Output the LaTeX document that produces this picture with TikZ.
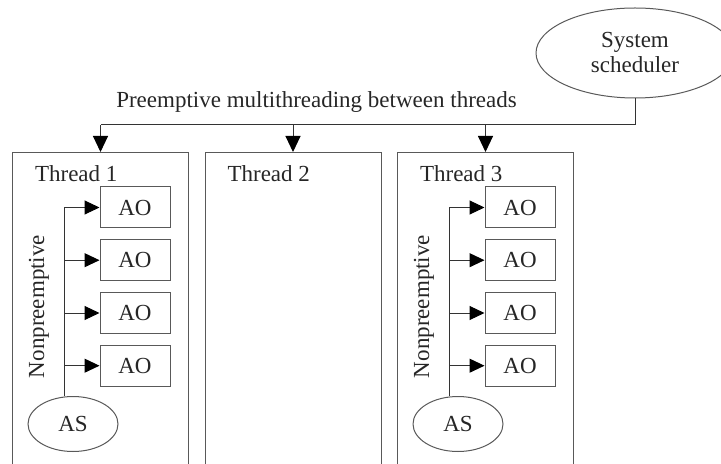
\documentclass[tikz,border=0pt]{standalone}
\usepackage{fontspec}
\setmainfont{Liberation Serif}
\usetikzlibrary{shapes.geometric,arrows.meta}

\begin{document}
\begin{tikzpicture}[x=0.5pt,y=-0.5pt,
    every node/.style={font=\fontsize{11.5}{12.5}\selectfont, text=black!85},
    box/.style={draw=black!65, line width=0.5pt, inner sep=0pt},
    oval/.style={box, ellipse},
    wire/.style={draw=black!80, line width=0.5pt},
    arr/.style={wire, -{Triangle[length=8pt,width=7.5pt,color=black]}},
    arrs/.style={wire, -{Triangle[length=7.5pt,width=7pt,color=black]}}]
        \clip (0,0) rectangle (721,464);

        % escalonador do sistema
        \node[oval, minimum width=99pt, minimum height=45pt, align=center] (sched) at (635,53) {System\\scheduler};
        \node[anchor=base] (pre) at (316.5,108) {Preemptive multithreading between threads};
        \coordinate (hub) at (635,125);

        % threads
        \foreach \t/\l in {1/12, 2/204.5, 3/397} {
            \node[box, anchor=north west, minimum width=88pt, minimum height=170pt] (t\t) at (\l,152) {};
            \node[anchor=base west] (n\t) at (\l+16,182) {Thread \t};
        }
        \draw[wire] (sched.south) -- (hub) -- (t1.north |- hub);
        \foreach \t in {1,2,3}
            \draw[arr] (t\t.north |- hub) -- (t\t.north);

        % objetos ativos
        \foreach \t/\l in {1/12, 3/397} {
            \foreach \k/\y in {1/207.5, 2/260.2, 3/313, 4/365.7}
                \node[box, minimum width=35pt, minimum height=20.5pt] (ao\t\k) at (\l+123,\y) {AO};
            \node[oval, minimum width=45pt, minimum height=27.5pt] (as\t) at (\l+61,424) {AS};
            \node[rotate=90] (np\t) at (\l+27,306.5) {Nonpreemptive};
            \coordinate (bus\t) at ([xshift=-4.5pt]as\t.north);
            \foreach \k in {1,...,4}
                \draw[arrs] (bus\t) |- (ao\t\k.west);
        }
    \end{tikzpicture}
\end{document}
